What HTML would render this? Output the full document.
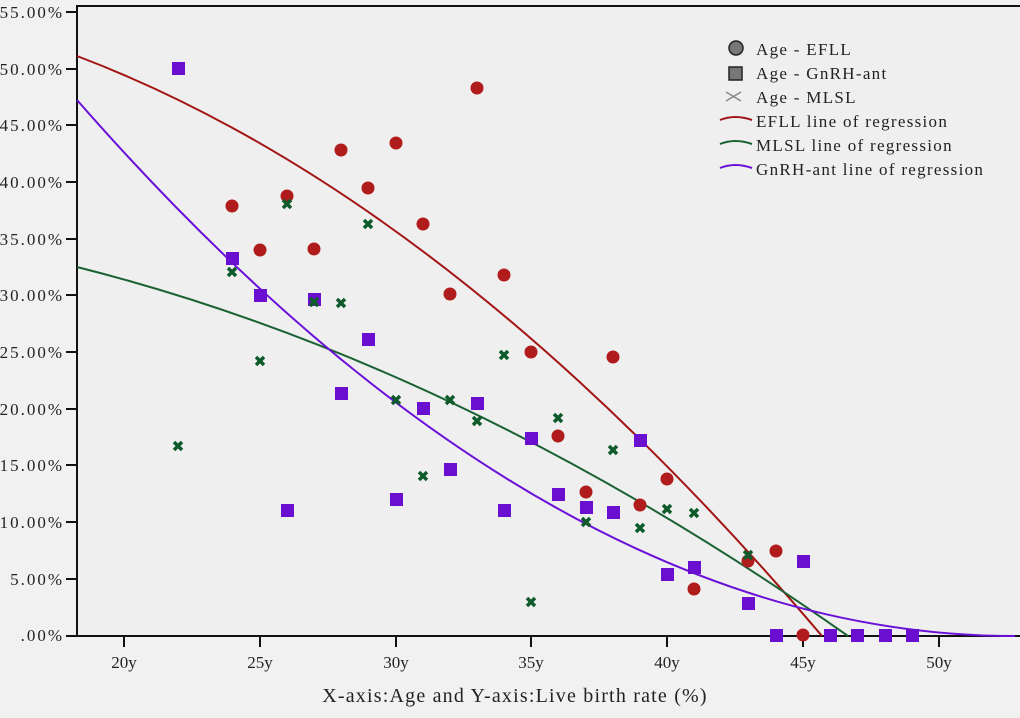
<!DOCTYPE html><html><head><style>body{margin:0;background:#f1f1f1}</style></head><body>
<svg width="1020" height="713" xmlns="http://www.w3.org/2000/svg" font-family="Liberation Serif, serif">
<rect width="1020" height="713" fill="#f1f1f1"/>
<rect x="77" y="6" width="950" height="630" fill="#efefef" stroke="#111" stroke-width="2"/>
<g font-size="17" fill="#222" text-anchor="end" letter-spacing="2">
<text x="64" y="18">55.00%</text><text x="64" y="75">50.00%</text><text x="64" y="131">45.00%</text><text x="64" y="188">40.00%</text><text x="64" y="245">35.00%</text><text x="64" y="301">30.00%</text><text x="64" y="358">25.00%</text><text x="64" y="415">20.00%</text><text x="64" y="471">15.00%</text><text x="64" y="528">10.00%</text><text x="64" y="585">5.00%</text><text x="64" y="641">.00%</text>
</g>
<g stroke="#111" stroke-width="2">
<path d="M66 12H77M66 69H77M66 125H77M66 182H77M66 239H77M66 295H77M66 352H77M66 409H77M66 465H77M66 522H77M66 579H77M66 636H77"/>
<path d="M124 636V647M260 636V647M396 636V647M531 636V647M667 636V647M803 636V647M939 636V647"/>
</g>
<g font-size="17" fill="#222" text-anchor="middle">
<text x="124" y="668">20y</text><text x="260" y="668">25y</text><text x="396" y="668">30y</text><text x="531" y="668">35y</text><text x="667" y="668">40y</text><text x="803" y="668">45y</text><text x="939" y="668">50y</text>
</g>
<text x="515" y="702" font-size="20" fill="#222" text-anchor="middle" letter-spacing="1.2">X-axis:Age and Y-axis:Live birth rate (%)</text>
<g fill="none" stroke-width="2">
<path stroke="#a31515" d="M77 56Q449.5 197.2 822 636"/>
<path stroke="#1a6233" d="M77 267Q462.5 364.2 848 636"/>
<path stroke="#6a10d8" d="M77 100Q546 636 1015 636"/>
</g>
<g fill="#b01c1c">
<circle cx="232" cy="206" r="6.5"/><circle cx="260" cy="250" r="6.5"/><circle cx="287" cy="196" r="6.5"/><circle cx="314" cy="249" r="6.5"/><circle cx="341" cy="150" r="6.5"/><circle cx="368" cy="188" r="6.5"/><circle cx="396" cy="143" r="6.5"/><circle cx="423" cy="224" r="6.5"/><circle cx="450" cy="294" r="6.5"/><circle cx="477" cy="88" r="6.5"/><circle cx="504" cy="275" r="6.5"/><circle cx="531" cy="352" r="6.5"/><circle cx="558" cy="436" r="6.5"/><circle cx="586" cy="492" r="6.5"/><circle cx="613" cy="357" r="6.5"/><circle cx="640" cy="505" r="6.5"/><circle cx="667" cy="479" r="6.5"/><circle cx="694" cy="589" r="6.5"/><circle cx="748" cy="561" r="6.5"/><circle cx="776" cy="551" r="6.5"/><circle cx="803" cy="635" r="6.5"/>
</g>
<g fill="#6a0fcf">
<path d="M172 62h13v13h-13zM226 252h13v13h-13zM254 289h13v13h-13zM281 504h13v13h-13zM308 293h13v13h-13zM362 333h13v13h-13zM335 387h13v13h-13zM390 493h13v13h-13zM417 402h13v13h-13zM444 463h13v13h-13zM471 397h13v13h-13zM498 504h13v13h-13zM525 432h13v13h-13zM552 488h13v13h-13zM580 501h13v13h-13zM607 506h13v13h-13zM634 434h13v13h-13zM661 568h13v13h-13zM688 561h13v13h-13zM742 597h13v13h-13zM770 629h13v13h-13zM797 555h13v13h-13zM824 629h13v13h-13zM851 629h13v13h-13zM879 629h13v13h-13zM906 629h13v13h-13z"/>
</g>
<g stroke="#0f5a2a" stroke-width="3.5">
<path d="M174 442l8 8m0-8l-8 8M228 268l8 8m0-8l-8 8M256 357l8 8m0-8l-8 8M283 200l8 8m0-8l-8 8M310 298l8 8m0-8l-8 8M337 299l8 8m0-8l-8 8M364 220l8 8m0-8l-8 8M392 396l8 8m0-8l-8 8M419 472l8 8m0-8l-8 8M446 396l8 8m0-8l-8 8M473 417l8 8m0-8l-8 8M500 351l8 8m0-8l-8 8M527 598l8 8m0-8l-8 8M554 414l8 8m0-8l-8 8M582 518l8 8m0-8l-8 8M609 446l8 8m0-8l-8 8M636 524l8 8m0-8l-8 8M663 505l8 8m0-8l-8 8M690 509l8 8m0-8l-8 8M744 551l8 8m0-8l-8 8"/>
</g>
<g font-size="17" fill="#222" letter-spacing="1.3">
<circle cx="736" cy="48" r="7" fill="#777" stroke="#222" stroke-width="1.5"/>
<rect x="729" y="67" width="13" height="13" fill="#777" stroke="#222" stroke-width="1.5"/>
<path d="M726 92l15 9m0-9l-15 9" stroke="#888" stroke-width="1.5"/>
<path d="M720 120q15-6 32 0" stroke="#a31515" stroke-width="2" fill="none"/>
<path d="M720 144q15-6 32 0" stroke="#1a6233" stroke-width="2" fill="none"/>
<path d="M720 168q15-6 32 0" stroke="#6a10d8" stroke-width="2" fill="none"/>
<text x="756" y="55">Age - EFLL</text><text x="756" y="79">Age - GnRH-ant</text><text x="756" y="103">Age - MLSL</text>
<text x="756" y="127">EFLL line of regression</text><text x="756" y="151">MLSL line of regression</text><text x="756" y="175">GnRH-ant line of regression</text>
</g>
</svg></body></html>
